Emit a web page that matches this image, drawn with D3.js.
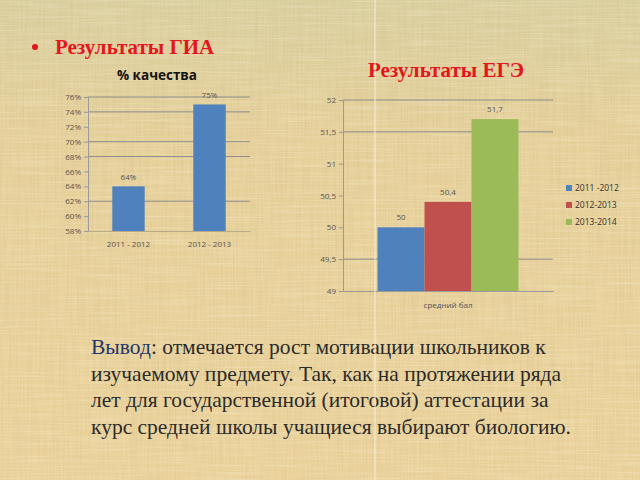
<!DOCTYPE html>
<html>
<head>
<meta charset="utf-8">
<script src="https://cdn.jsdelivr.net/npm/d3@7"></script>
<style>
  html, body { margin: 0; padding: 0; background: #e8d29c; }
  svg { display: block; }
  .tick text { font-family: "Open Sans", sans-serif; font-size: 8px; fill: #555; }
</style>
</head>
<body>
<svg id="slide" width="640" height="480"></svg>
<script>
// ── Data ──────────────────────────────────────────────────────────
var giaYears   = ["2011 - 2012", "2012 - 2013"];
var giaQuality = [0.64, 0.75];
var giaTicks   = [0.58, 0.60, 0.62, 0.64, 0.66, 0.68, 0.70, 0.72, 0.74, 0.76];
var giaGrid    = [0.62, 0.68, 0.70, 0.74, 0.76];   // lines still visible in the picture

var egeYears   = ["2011 -2012", "2012-2013", "2013-2014"];
var egeScores  = [50, 50.4, 51.7];
var egeColors  = ["#4f81bd", "#c0504d", "#9bbb59"];
var egeTicks   = [49, 49.5, 50, 50.5, 51, 51.5, 52];
var egeGrid    = [49.5, 51.5, 52];
var egeCategory = "средний бал";

var conclusionLines = [
  "отмечается рост мотивации школьников к",
  "изучаемому предмету. Так, как на протяжении ряда",
  "лет для государственной (итоговой) аттестации за",
  "курс средней школы учащиеся выбирают биологию."
];

var svg = d3.select("#slide");

// ── Background texture ────────────────────────────────────────────
var defs = svg.append("defs");
var grad = defs.append("linearGradient").attr("id", "bg").attr("x1", 0).attr("y1", 0).attr("x2", 0).attr("y2", 1);
grad.append("stop").attr("offset", "0").attr("stop-color", "#dbd0a0");
grad.append("stop").attr("offset", "0.3").attr("stop-color", "#e7d19b");
grad.append("stop").attr("offset", "1").attr("stop-color", "#ecd39c");

var fv = defs.append("filter").attr("id", "fibV").attr("x", 0).attr("y", 0).attr("width", 1).attr("height", 1);
fv.append("feTurbulence").attr("type", "fractalNoise").attr("baseFrequency", "0.6 0.015").attr("numOctaves", 2).attr("seed", 3);
fv.append("feColorMatrix").attr("type", "matrix")
  .attr("values", "0 0 0 0 0.6  0 0 0 0 0.48  0 0 0 0 0.25  0 0 0 1.4 -0.55");
var fh = defs.append("filter").attr("id", "fibH").attr("x", 0).attr("y", 0).attr("width", 1).attr("height", 1);
fh.append("feTurbulence").attr("type", "fractalNoise").attr("baseFrequency", "0.015 0.6").attr("numOctaves", 2).attr("seed", 7);
fh.append("feColorMatrix").attr("type", "matrix")
  .attr("values", "0 0 0 0 0.98  0 0 0 0 0.93  0 0 0 0 0.75  0 0 0 1.4 -0.6");

svg.append("rect").attr("width", 640).attr("height", 480).attr("fill", "url(#bg)");
svg.append("rect").attr("width", 640).attr("height", 480).attr("filter", "url(#fibV)").attr("opacity", 0.45);
svg.append("rect").attr("width", 640).attr("height", 480).attr("filter", "url(#fibH)").attr("opacity", 0.45);

// ── Headings ──────────────────────────────────────────────────────
svg.append("circle").attr("cx", 35).attr("cy", 47).attr("r", 3).attr("fill", "#e3161b");
svg.append("text")
  .attr("x", 55).attr("y", 54)
  .attr("font-family", "Liberation Serif, serif").attr("font-weight", "bold")
  .attr("font-size", 21).attr("fill", "#e3161b")
  .text("Результаты ГИА");

svg.append("text")
  .attr("x", 368).attr("y", 77)
  .attr("font-family", "Liberation Serif, serif").attr("font-weight", "bold")
  .attr("font-size", 21).attr("fill", "#e3161b")
  .text("Результаты ЕГЭ");

// ── GIA chart (% качества) ────────────────────────────────────────
var gia = { left: 88, right: 250, top: 97, bottom: 231 };

svg.append("text")
  .attr("x", 157).attr("y", 80).attr("text-anchor", "middle")
  .attr("font-family", "Open Sans, sans-serif").attr("font-weight", "bold")
  .attr("font-size", 13.5).attr("fill", "#111")
  .text("% качества");

var gx = d3.scaleBand().domain(giaYears).range([gia.left, gia.right]).paddingInner(0.6).paddingOuter(0.3);
var gy = d3.scaleLinear().domain([0.58, 0.76]).range([gia.bottom, gia.top]);

svg.append("g").selectAll("line").data(giaGrid).join("line")
  .attr("x1", gia.left).attr("x2", gia.right)
  .attr("y1", function (d) { return gy(d); }).attr("y2", function (d) { return gy(d); })
  .attr("stroke", "#8c8c8c").attr("stroke-width", 1);

var gAxis = svg.append("g").attr("transform", "translate(" + gia.left + ",0)")
  .call(d3.axisLeft(gy).tickValues(giaTicks).tickFormat(d3.format(".0%")).tickSize(4).tickPadding(3));
gAxis.select(".domain").attr("stroke", "#9a9a9a");
gAxis.selectAll(".tick line").attr("stroke", "#9a9a9a");

svg.append("g").selectAll("rect").data(giaQuality).join("rect")
  .attr("x", function (d, i) { return gx(giaYears[i]); })
  .attr("width", gx.bandwidth())
  .attr("y", function (d) { return gy(d); })
  .attr("height", function (d) { return gy(0.58) - gy(d); })
  .attr("fill", "#4f81bd");

svg.append("g").selectAll("text").data(giaQuality).join("text")
  .attr("x", function (d, i) { return gx(giaYears[i]) + gx.bandwidth() / 2; })
  .attr("y", function (d) { return gy(d) - 6; })
  .attr("text-anchor", "middle")
  .attr("font-family", "Open Sans, sans-serif").attr("font-size", 8).attr("fill", "#555")
  .text(function (d) { return d3.format(".0%")(d); });

var gxAxis = svg.append("g").attr("transform", "translate(0," + gia.bottom + ")")
  .call(d3.axisBottom(gx).tickSize(0).tickPadding(10));
gxAxis.select(".domain").attr("stroke", "#b5ab8a");

// ── EGE chart ─────────────────────────────────────────────────────
var ege = { left: 343, right: 553, top: 100, bottom: 291 };

var ex0 = d3.scaleBand().domain([egeCategory]).range([ege.left, ege.right]).paddingInner(0).paddingOuter(0.245);
var ex1 = d3.scaleBand().domain(egeYears).range([0, ex0.bandwidth()]);
var ey = d3.scaleLinear().domain([49, 52]).range([ege.bottom, ege.top]);

svg.append("g").selectAll("line").data(egeGrid).join("line")
  .attr("x1", ege.left).attr("x2", ege.right)
  .attr("y1", function (d) { return ey(d); }).attr("y2", function (d) { return ey(d); })
  .attr("stroke", "#8c8c8c").attr("stroke-width", 1);

var eAxis = svg.append("g").attr("transform", "translate(" + ege.left + ",0)")
  .call(d3.axisLeft(ey).tickValues(egeTicks).tickFormat(function (d) { return String(d).replace(".", ","); })
    .tickSize(4).tickPadding(3));
eAxis.select(".domain").attr("stroke", "#9a9a9a");
eAxis.selectAll(".tick line").attr("stroke", "#9a9a9a");

var exAxis = svg.append("g").attr("transform", "translate(0," + ege.bottom + ")")
  .call(d3.axisBottom(ex0).tickSize(0).tickPadding(11));
exAxis.select(".domain").attr("stroke", "#9a9a9a");

svg.append("g").selectAll("rect").data(egeScores).join("rect")
  .attr("x", function (d, i) { return ex0(egeCategory) + ex1(egeYears[i]); })
  .attr("width", ex1.bandwidth())
  .attr("y", function (d) { return ey(d); })
  .attr("height", function (d) { return ey(49) - ey(d); })
  .attr("fill", function (d, i) { return egeColors[i]; });

svg.append("g").selectAll("text").data(egeScores).join("text")
  .attr("x", function (d, i) { return ex0(egeCategory) + ex1(egeYears[i]) + ex1.bandwidth() / 2; })
  .attr("y", function (d) { return ey(d) - 7; })
  .attr("text-anchor", "middle")
  .attr("font-family", "Open Sans, sans-serif").attr("font-size", 8).attr("fill", "#555")
  .text(function (d) { return String(d).replace(".", ","); });

// Legend
var legend = svg.append("g").selectAll("g").data(egeYears).join("g")
  .attr("transform", function (d, i) { return "translate(566," + (185 + i * 17) + ")"; });
legend.append("rect").attr("width", 6).attr("height", 6)
  .attr("fill", function (d, i) { return egeColors[i]; });
legend.append("text").attr("x", 9).attr("y", 6)
  .attr("font-family", "Open Sans, sans-serif").attr("font-size", 8.5).attr("fill", "#333")
  .text(function (d) { return d; });

// ── Conclusion text ───────────────────────────────────────────────
var para = svg.append("text")
  .attr("font-family", "Liberation Serif, serif").attr("font-size", 21.5).attr("fill", "#2b2b2b");
conclusionLines.forEach(function (line, i) {
  var t = para.append("tspan").attr("x", 91).attr("y", 354 + i * 26.5);
  if (i === 0) {
    t.append("tspan").attr("fill", "#1f3769").text("Вывод");
    t.append("tspan").text(": " + line);
  } else {
    t.text(line);
  }
});

// Slide seam artefact
svg.append("line").attr("x1", 375).attr("x2", 375).attr("y1", 0).attr("y2", 480)
  .attr("stroke", "#fbf3dc").attr("stroke-width", 1).attr("opacity", 0.9);
</script>
</body>
</html>
